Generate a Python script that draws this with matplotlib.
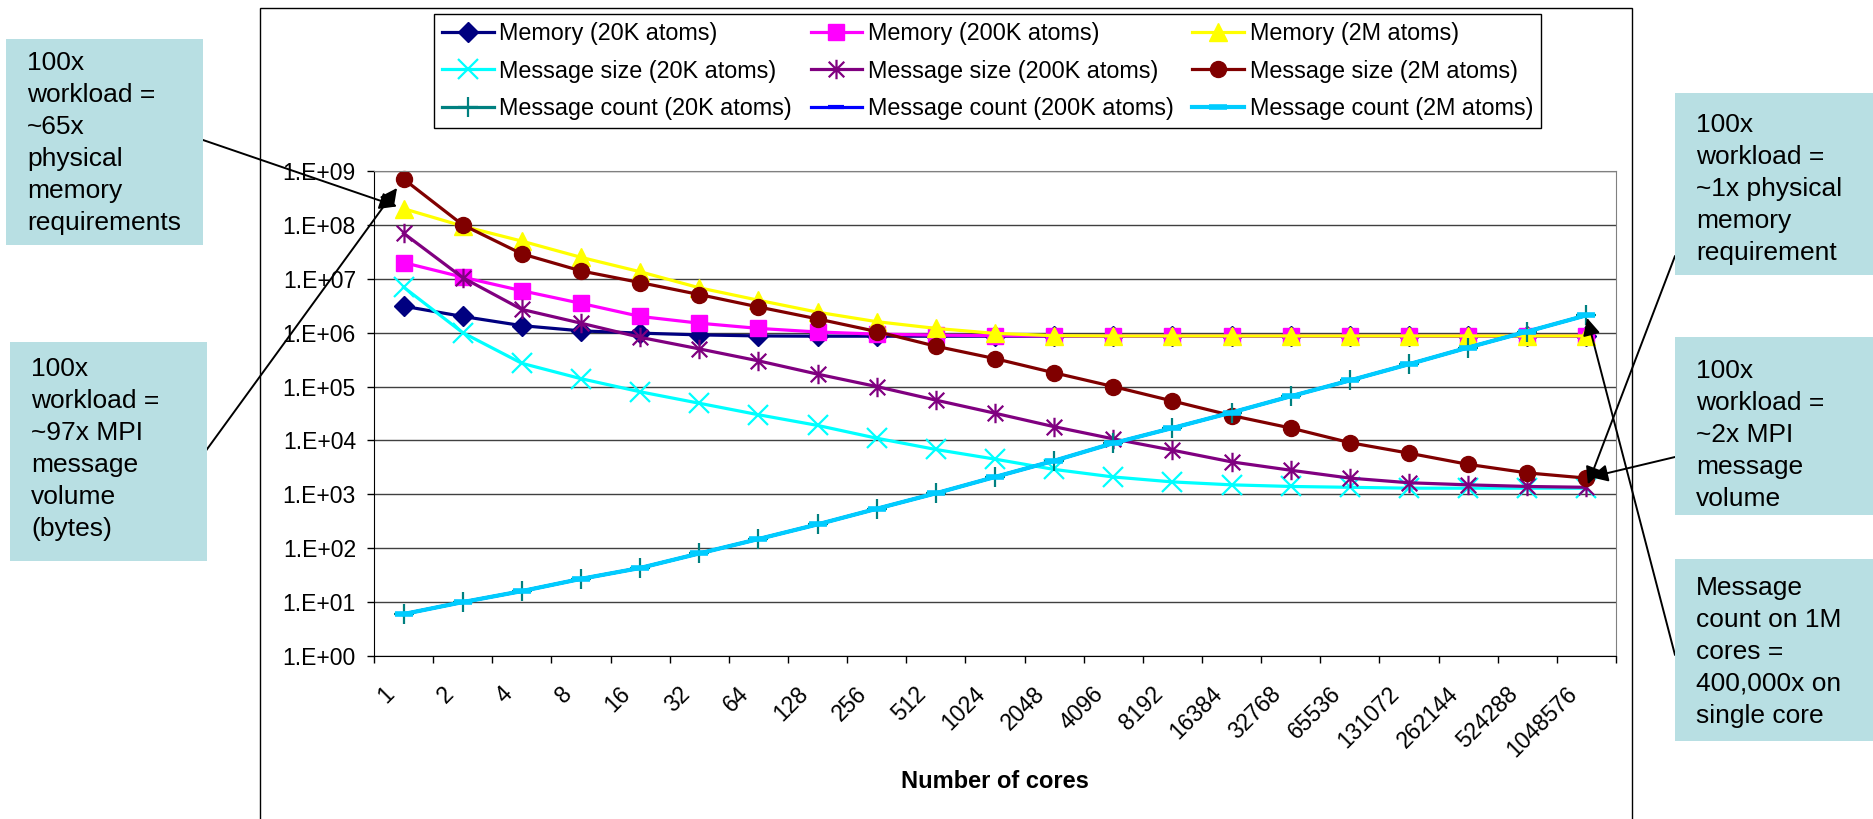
#!/usr/bin/env python
'''
Memory, message size and message count against number of cores,
for three workload sizes, with call-out boxes.
'''
import numpy as np
import matplotlib
matplotlib.use('Agg')
import matplotlib.pyplot as plt
from matplotlib.path import Path
from matplotlib.patches import Rectangle
from matplotlib.ticker import FuncFormatter, NullLocator, FixedLocator
from matplotlib.transforms import ScaledTranslation

plt.rcParams['font.family'] = ['Liberation Sans', 'DejaVu Sans']

W, H = 1873, 819

cores = [1, 2, 4, 8, 16, 32, 64, 128, 256, 512, 1024, 2048, 4096, 8192,
         16384, 32768, 65536, 131072, 262144, 524288, 1048576]

mem_20k = [3.1e6, 2.0e6, 1.35e6, 1.08e6, 9.8e5, 9.1e5, 8.7e5, 8.6e5, 8.6e5,
           8.6e5, 8.6e5, 8.6e5, 8.6e5, 8.6e5, 8.6e5, 8.6e5, 8.6e5, 8.6e5,
           8.6e5, 8.6e5, 8.6e5]
mem_200k = [2.0e7, 1.07e7, 6.0e6, 3.5e6, 2.0e6, 1.5e6, 1.2e6, 1.03e6, 9.4e5,
            9.0e5, 8.8e5, 8.7e5, 8.7e5, 8.7e5, 8.7e5, 8.7e5, 8.7e5, 8.7e5,
            8.7e5, 8.7e5, 8.7e5]
mem_2m = [2.0e8, 9.5e7, 5.0e7, 2.5e7, 1.35e7, 6.8e6, 4.0e6, 2.4e6, 1.6e6,
          1.2e6, 9.7e5, 8.8e5, 8.7e5, 8.7e5, 8.7e5, 8.7e5, 8.7e5, 8.7e5,
          8.7e5, 8.7e5, 8.7e5]

size_20k = [7.0e6, 1.0e6, 2.7e5, 1.4e5, 8.0e4, 4.9e4, 3.0e4, 1.9e4, 1.1e4,
            6.8e3, 4.5e3, 2.9e3, 2.1e3, 1.7e3, 1.5e3, 1.4e3, 1.35e3, 1.3e3,
            1.3e3, 1.3e3, 1.3e3]
size_200k = [7.0e7, 1.05e7, 2.7e6, 1.5e6, 8.2e5, 5.0e5, 3.0e5, 1.7e5, 1.0e5,
             5.6e4, 3.2e4, 1.8e4, 1.07e4, 6.6e3, 4.0e3, 2.8e3, 2.0e3, 1.64e3,
             1.5e3, 1.4e3, 1.35e3]
size_2m = [7.1e8, 1.0e8, 2.9e7, 1.4e7, 8.5e6, 5.1e6, 3.0e6, 1.8e6, 1.05e6,
           5.6e5, 3.3e5, 1.8e5, 1.0e5, 5.4e4, 2.9e4, 1.7e4, 9.1e3, 5.8e3,
           3.6e3, 2.5e3, 2.0e3]

count_20k = [6, 10, 16, 27, 43, 80, 148, 277, 540, 1045, 2.1e3, 4.2e3, 8.9e3,
             1.7e4, 3.3e4, 6.6e4, 1.3e5, 2.6e5, 5.3e5, 1.05e6, 2.1e6]
count_200k = [6, 10, 16, 27, 43, 80, 148, 277, 540, 1045, 2.1e3, 4.2e3, 8.9e3,
              1.7e4, 3.3e4, 6.6e4, 1.3e5, 2.6e5, 5.3e5, 1.05e6, 2.1e6]
count_2m = [6, 10, 16, 27, 43, 80, 148, 277, 540, 1045, 2.1e3, 4.2e3, 8.9e3,
            1.7e4, 3.3e4, 6.6e4, 1.3e5, 2.6e5, 5.3e5, 1.05e6, 2.1e6]

BOX = '#B8DFE3'

# Excel style "star" marker: an x with a vertical bar through it
STAR = Path([(-1, -1), (1, 1), (-1, 1), (1, -1), (0, -1.25), (0, 1.25)],
            [Path.MOVETO, Path.LINETO, Path.MOVETO, Path.LINETO,
             Path.MOVETO, Path.LINETO])


def fx(x):
    '''pixel column (from left) to figure fraction'''
    return x / W


def fy(y):
    '''pixel row (from top) to figure fraction'''
    return 1 - y / H


def call_out(fig, x0, y0, x1, y1, text, text_top):
    '''Shaded box with left aligned text'''
    fig.add_artist(Rectangle((fx(x0), fy(y1)), (x1 - x0) / W, (y1 - y0) / H,
                             transform=fig.transFigure, facecolor=BOX,
                             edgecolor='none', zorder=1))
    fig.text(fx(x0 + 21), fy(text_top), text, ha='left', va='top',
             fontsize=19, linespacing=1.42, zorder=2)


def main():
    fig = plt.figure(figsize=(W / 100, H / 100), dpi=100)
    fig.patch.set_facecolor('white')

    # outer chart frame
    fig.add_artist(Rectangle((fx(260), fy(840)), (1632 - 260) / W,
                             (840 - 8) / H, transform=fig.transFigure,
                             fill=False, edgecolor='black', lw=1.0))

    ax = fig.add_axes([fx(374), fy(656), (1616 - 374) / W, (656 - 171) / H])
    x = np.arange(len(cores))

    series = [
        (mem_20k, 'Memory (20K atoms)', '#000080',
         dict(marker='D', ms=10, mec='#000080')),
        (mem_200k, 'Memory (200K atoms)', '#FF00FF',
         dict(marker='s', ms=11, mec='#FF00FF')),
        (mem_2m, 'Memory (2M atoms)', '#FFFF00',
         dict(marker='^', ms=13, mec='#FFFF00')),
        (size_20k, 'Message size (20K atoms)', '#00FFFF',
         dict(marker='x', ms=14, mew=1.6)),
        (size_200k, 'Message size (200K atoms)', '#800080',
         dict(marker=STAR, ms=14, mew=1.6, mfc='none', mec='#800080')),
        (size_2m, 'Message size (2M atoms)', '#800000',
         dict(marker='o', ms=11.5, mec='#800000')),
        (count_20k, 'Message count (20K atoms)', '#008080',
         dict(marker='+', ms=15, mew=1.6)),
        (count_200k, 'Message count (200K atoms)', '#0000FF',
         dict(marker='_', ms=12, mew=3)),
        (count_2m, 'Message count (2M atoms)', '#00CCFF',
         dict(marker='_', ms=13, mew=4)),
    ]
    handles = []
    for vals, label, colour, style in series:
        lw = 3.0 if colour == '#00CCFF' else 2.3
        line, = ax.plot(x, vals, color=colour, lw=lw, label=label,
                        clip_on=False, **style)
        handles.append(line)

    ax.set_yscale('log')
    ax.set_ylim(1, 1e9)
    ax.set_xlim(-0.5, len(cores) - 0.5)
    ax.yaxis.set_major_locator(FixedLocator([10.0 ** n for n in range(10)]))
    ax.yaxis.set_minor_locator(NullLocator())
    ax.yaxis.set_major_formatter(
        FuncFormatter(lambda v, _: '1.E+%02d' % round(np.log10(v))))
    ax.grid(axis='y', color='#404040', lw=1.0)
    ax.set_axisbelow(True)
    ax.tick_params(axis='y', direction='out', length=5, width=1,
                   pad=8, labelsize=16.5)

    # labels sit at the category centres, tick marks on the boundaries
    ax.set_xticks(x)
    ax.set_xticklabels([str(c) for c in cores], rotation=45, ha='right',
                       va='center', rotation_mode='anchor')
    ax.xaxis.set_minor_locator(FixedLocator(np.arange(len(cores) + 1) - 0.5))
    ax.tick_params(axis='x', which='major', length=0, pad=25, labelsize=16.5)
    ax.tick_params(axis='x', which='minor', direction='out', length=5,
                   width=1)
    shift = ScaledTranslation(-13 / 100, 0, fig.dpi_scale_trans)
    for lab in ax.get_xticklabels():
        lab.set_transform(lab.get_transform() + shift)

    for side in ('top', 'right'):
        ax.spines[side].set_color('#808080')
    for side in ('left', 'bottom'):
        ax.spines[side].set_color('black')

    ax.set_xlabel('Number of cores', fontsize=17, fontweight='bold')
    ax.xaxis.set_label_coords(0.5, -0.235)

    order = [0, 3, 6, 1, 4, 7, 2, 5, 8]
    leg = fig.legend([handles[i] for i in order],
                     [handles[i].get_label() for i in order],
                     ncol=3, loc='upper left',
                     bbox_to_anchor=(fx(434), fy(14)), fontsize=16.8,
                     frameon=True, fancybox=False, edgecolor='black',
                     framealpha=1, borderpad=0.35, labelspacing=0.62,
                     handlelength=2.2, handletextpad=0.25,
                     columnspacing=0.8, borderaxespad=0)
    leg.get_frame().set_linewidth(1.0)

    # call-out boxes
    call_out(fig, 6, 39, 203, 245,
             '100x\nworkload =\n~65x\nphysical\nmemory\nrequirements', 51)
    call_out(fig, 10, 342, 207, 561,
             '100x\nworkload =\n~97x MPI\nmessage\nvolume\n(bytes)', 357)
    call_out(fig, 1675, 93, 1873, 275,
             '100x\nworkload =\n~1x physical\nmemory\nrequirement', 113)
    call_out(fig, 1675, 337, 1873, 515,
             '100x\nworkload =\n~2x MPI\nmessage\nvolume', 359)
    call_out(fig, 1675, 559, 1873, 741,
             'Message\ncount on 1M\ncores =\n400,000x on\nsingle core', 576)

    arrows = [
        ((203, 140), (0, mem_2m[0]), 5),
        ((205, 452), (0, size_2m[0]), 8),
        ((1675, 256), (len(cores) - 1, size_20k[-1]), 3),
        ((1675, 457), (len(cores) - 1, size_2m[-1]), 3),
        ((1675, 655), (len(cores) - 1, count_2m[-1]), 2),
    ]
    for start, tip, shrink in arrows:
        ax.annotate('', xy=tip, xycoords='data',
                    xytext=(start[0], H - start[1]),
                    textcoords='figure pixels', annotation_clip=False,
                    arrowprops=dict(arrowstyle='-|>', color='black', lw=1.4,
                                    mutation_scale=26, shrinkA=0,
                                    shrinkB=shrink))

    fig.savefig('out.png', dpi=100)


if __name__ == '__main__':
    main()
